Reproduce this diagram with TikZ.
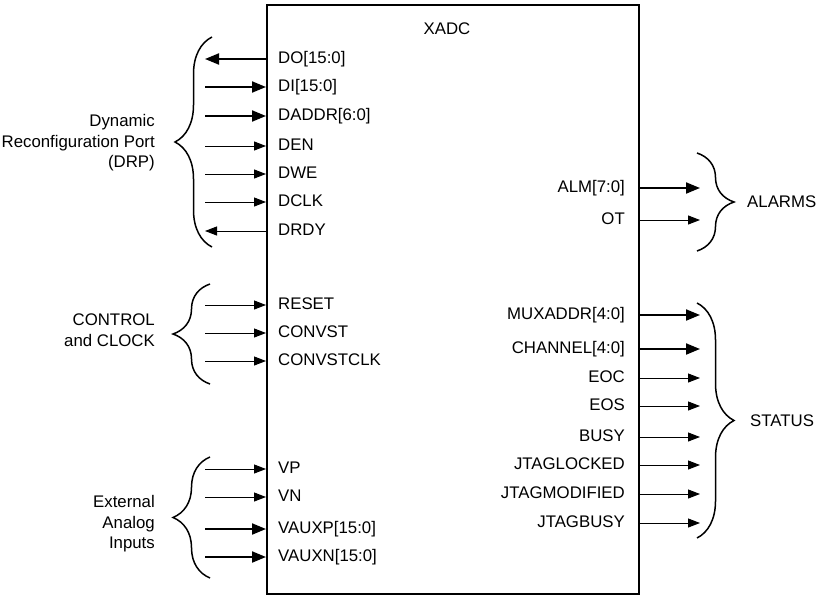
\documentclass[tikz,border=0pt]{standalone}
\usepackage{fontspec}
\setmainfont{Liberation Sans}
\usetikzlibrary{arrows.meta,decorations.pathreplacing}

\begin{document}
\begin{tikzpicture}[x=1pt, y=-1pt]
\tikzstyle{every node} = [font=\fontsize{16.8}{20.5}\selectfont, inner sep=0pt]
\tikzstyle{pinlabel} = [text height=12pt, text depth=3.5pt]
\tikzstyle{busline} = [line width=2pt, -{Triangle[length=14pt,width=11pt]}]
\tikzstyle{busrev} = [line width=2pt, {Triangle[length=14pt,width=11pt]}-]
\tikzstyle{sigline} = [line width=1pt, -{Triangle[length=12pt,width=9pt]}]
\tikzstyle{sigrev} = [line width=1pt, {Triangle[length=12pt,width=9pt]}-]
\tikzstyle{brc} = [decorate, decoration={brace, amplitude=37pt}, line width=1.5pt]
\useasboundingbox (0,0) rectangle (818,599);

\node[draw, line width=2pt, minimum width=372pt, minimum height=589pt] (chip) at (453,299.5) {};
\node (xadc) at (447,29) {XADC};

% left side pins
\foreach \id/\txt/\y/\kind in {do/DO[15:0]/59/busrev, di/DI[15:0]/87/busline,
    daddr/DADDR[6:0]/116/busline, den/DEN/146/sigline, dwe/DWE/174/sigline,
    dclk/DCLK/202/sigline, drdy/DRDY/231/sigrev,
    reset/RESET/305/sigline, convst/CONVST/333/sigline, convstclk/CONVSTCLK/361/sigline,
    vp/VP/469/sigline, vn/VN/497/sigline, vauxp/VAUXP[15:0]/529/busline,
    vauxn/VAUXN[15:0]/557/busline}
{
  \node[pinlabel, anchor=west] (\id) at (278,\y) {\txt};
  \coordinate (\id e) at (205,\y);
  \draw[\kind] (\id e) -- (chip.west |- \id e);
}

% right side pins
\foreach \id/\txt/\y/\kind in {alm/ALM[7:0]/188/busline, ot/OT/220/sigline,
    muxaddr/MUXADDR[4:0]/315/busline, channel/CHANNEL[4:0]/349/busline,
    eoc/EOC/378/sigline, eos/EOS/406/sigline, busy/BUSY/437/sigline,
    jtaglocked/JTAGLOCKED/465/sigline, jtagmodified/JTAGMODIFIED/494/sigline,
    jtagbusy/JTAGBUSY/523/sigline}
{
  \node[pinlabel, anchor=east] (\id) at (625,\y) {\txt};
  \coordinate (\id e) at (700,\y);
  \draw[\kind] (chip.east |- \id e) -- (\id e);
}

% braces
\draw[brc] (212,247) -- (212,37);
\draw[brc] (210,384) -- (210,284);
\draw[brc] (210,578) -- (210,457);
\draw[brc] (697,153) -- (697,251);
\draw[brc] (697,303) -- (697,538);

\node[align=right, anchor=east] (drp) at (155,143) {Dynamic\\Reconfiguration Port\\(DRP)};
\node[align=right, anchor=east] (ctrl) at (155,330) {CONTROL\\and CLOCK};
\node[align=right, anchor=east] (ext) at (155,524) {External\\Analog\\Inputs};
\node[anchor=west] (alarms) at (747,202) {ALARMS};
\node[anchor=west] (status) at (750,421) {STATUS};
\end{tikzpicture}
\end{document}
